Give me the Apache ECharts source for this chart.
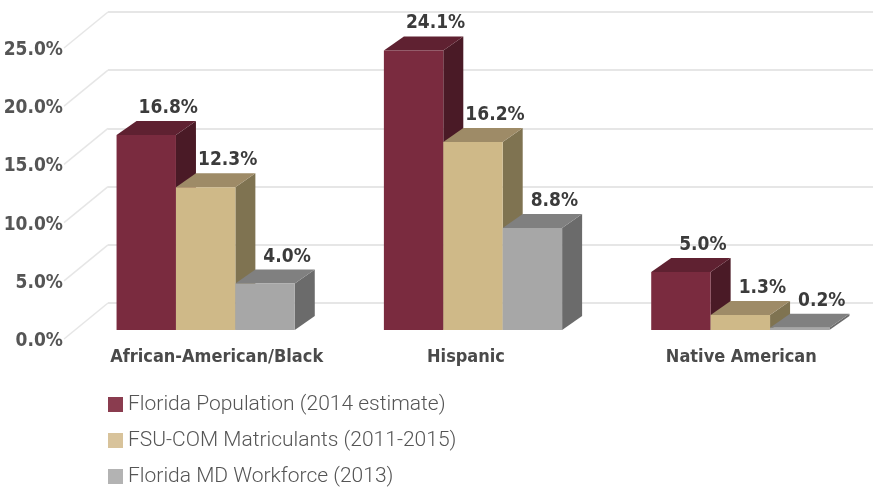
<!DOCTYPE html>
<html>
<head>
<meta charset="utf-8">
<style>
html,body{margin:0;padding:0;background:#fff;}
#chart{width:874px;height:489px;}
</style>
<script src="https://cdn.jsdelivr.net/npm/echarts@6/dist/echarts.min.js"></script>
</head>
<body>
<div id="chart"></div>
<script>
// ---- data ----
const categories = ['African-American/Black', 'Hispanic', 'Native American'];
const seriesNames = ['Florida Population (2014 estimate)', 'FSU-COM Matriculants (2011-2015)', 'Florida MD Workforce (2013)'];
const floridaPopulation = [16.8, 24.1, 5.0];
const fsuMatriculants = [12.3, 16.2, 1.3];
const mdWorkforce = [4.0, 8.8, 0.2];
const yTicks = [0, 5, 10, 15, 20, 25];

// ---- styles ----
const faceColors = [
  { front: '#7A2B3F', top: '#5F2131', side: '#4A1A26', legend: '#8A3C4F' },
  { front: '#CFB988', top: '#9E8B67', side: '#7F7351', legend: '#D8C39B' },
  { front: '#A7A7A7', top: '#808080', side: '#6B6B6B', legend: '#B3B3B3' }
];
const DEPTH_X = 20, DEPTH_Y = -14;
const BAR_FRAC = 60 / 270;
const boldFont = '"DejaVu Sans Condensed", "Liberation Sans Narrow", sans-serif';
// perspective shift of category labels (padding left/right, px)
const catLabelPad = [[0, 0, 0, 22], [0, 14, 0, 0], [0, 0, 0, 2]];

const chart = echarts.init(document.getElementById('chart'), null, { renderer: 'canvas' });

function barRender(si) {
  return function (params, api) {
    const c = api.value(0), v = api.value(1);
    const base = api.coord([c, 0]);
    const top = api.coord([c, v]);
    const band = api.size([1, 0])[0];
    const bw = band * BAR_FRAC;
    const x0 = base[0] - 1.5 * bw + si * bw;
    const x1 = x0 + bw;
    const yb = base[1], yt = top[1];
    const col = faceColors[si];
    return {
      type: 'group',
      children: [
        { type: 'polygon', shape: { points: [[x1, yb], [x1 + DEPTH_X, yb + DEPTH_Y], [x1 + DEPTH_X, yt + DEPTH_Y], [x1, yt]] }, style: { fill: col.side } },
        { type: 'polygon', shape: { points: [[x0, yt], [x1, yt], [x1 + DEPTH_X, yt + DEPTH_Y], [x0 + DEPTH_X, yt + DEPTH_Y]] }, style: { fill: col.top } },
        { type: 'rect', shape: { x: x0, y: yt, width: bw, height: yb - yt }, style: { fill: col.front } },
        { type: 'text', x: (x0 + x1) / 2 + 22, y: yt - 27, style: { text: v.toFixed(1) + '%', align: 'center', verticalAlign: 'middle', fill: '#3b3b3b', font: 'bold 19px ' + boldFont } }
      ]
    };
  };
}

const valueSets = [floridaPopulation, fsuMatriculants, mdWorkforce];

const richCat = {};
catLabelPad.forEach((p, i) => {
  richCat['c' + i] = { padding: p, color: '#4a4a4a', fontFamily: boldFont, fontWeight: 'bold', fontSize: 18 };
});

const option = {
  animation: false,
  backgroundColor: '#ffffff',
  grid: [
    { left: 108, right: 1, top: 12, bottom: 489 - 303 },   // back wall
    { left: 64, width: 10, top: 50, bottom: 489 - 341 },    // axis labels
    { left: 72, width: 810, top: 40, bottom: 489 - 330 }    // bars front plane
  ],
  xAxis: [
    { gridIndex: 0, type: 'category', data: categories, show: false },
    { gridIndex: 1, type: 'category', data: categories, show: false },
    {
      gridIndex: 2, type: 'category', data: categories,
      axisLine: { show: false }, axisTick: { show: false },
      axisLabel: {
        interval: 0, margin: 18, color: '#4a4a4a', fontFamily: boldFont, fontWeight: 'bold', fontSize: 18,
        formatter: (val, idx) => '{c' + idx + '|' + val + '}', rich: richCat
      }
    }
  ],
  yAxis: [
    {
      gridIndex: 0, type: 'value', min: 0, max: 25, interval: 5,
      axisLine: { show: false }, axisTick: { show: false }, axisLabel: { show: false },
      splitLine: { show: true, lineStyle: { color: '#e6e6e6', width: 2 } }
    },
    {
      gridIndex: 1, type: 'value', min: 0, max: 25, interval: 5,
      axisLine: { show: false }, axisTick: { show: false }, splitLine: { show: false },
      axisLabel: { margin: 1, color: '#555555', fontFamily: boldFont, fontWeight: 'bold', fontSize: 19, formatter: v => v.toFixed(1) + '%' }
    },
    { gridIndex: 2, type: 'value', min: 0, max: 25, show: false }
  ],
  legend: {
    orient: 'vertical', left: 108, top: 394, width: 500, height: 95,
    padding: 0,
    itemWidth: 15, itemHeight: 15, itemGap: 15,
    icon: 'rect',
    textStyle: { fontFamily: 'Roboto', fontWeight: 300, fontSize: 21, color: '#555555', lineHeight: 21 },
    data: seriesNames.map((n, i) => ({ name: n, itemStyle: { color: faceColors[i].legend } }))
  },
  series: [
    {
      type: 'custom', name: 'walllines', xAxisIndex: 0, yAxisIndex: 0, silent: true,
      data: yTicks.map(t => [0, t]),
      renderItem: function (params, api) {
        const p = api.coord([0, api.value(1)]);
        const left = params.coordSys.x;
        return { type: 'line', shape: { x1: left - 44, y1: p[1] + 36, x2: left, y2: p[1] }, style: { stroke: '#e6e6e6', lineWidth: 1.5 } };
      }
    }
  ].concat(valueSets.map((vals, si) => ({
    type: 'custom', name: seriesNames[si], xAxisIndex: 2, yAxisIndex: 2,
    itemStyle: { color: faceColors[si].legend },
    data: vals.map((v, i) => [i, v]),
    renderItem: barRender(si)
  })))
};
chart.setOption(option);
</script>
</body>
</html>
